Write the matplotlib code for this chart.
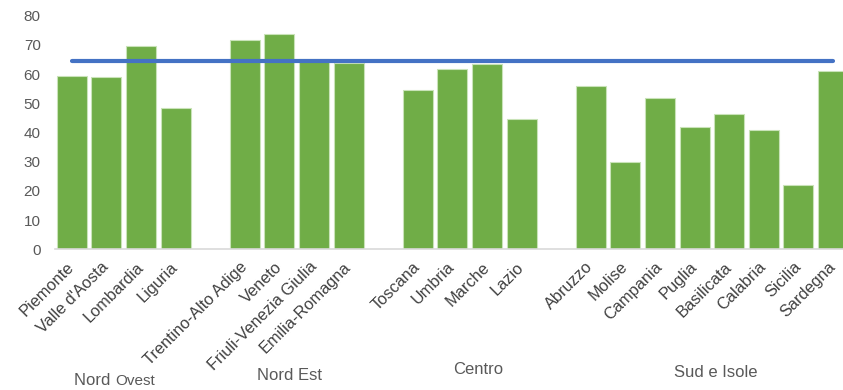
import numpy as np
import matplotlib

matplotlib.use("Agg")
import matplotlib.pyplot as plt

plt.rcParams["font.family"] = ["Liberation Sans", "DejaVu Sans"]

# regions per macro-area (empty slot between areas in the original chart)
groups = ["Nord Ovest", "Nord Est", "Centro", "Sud e Isole"]
nord_ovest = ["Piemonte", "Valle d'Aosta", "Lombardia", "Liguria"]
nord_est = ["Trentino-Alto Adige", "Veneto", "Friuli-Venezia Giulia", "Emilia-Romagna"]
centro = ["Toscana", "Umbria", "Marche", "Lazio"]
sud_isole = ["Abruzzo", "Molise", "Campania", "Puglia",
             "Basilicata", "Calabria", "Sicilia", "Sardegna"]

v_nord_ovest = [59.4, 59.1, 69.7, 48.5]
v_nord_est = [71.8, 73.8, 65.0, 63.7]
v_centro = [54.5, 61.8, 63.5, 44.6]
v_sud_isole = [55.8, 30.0, 51.9, 41.8, 46.2, 40.9, 21.9, 61.2]

italia = 64.6  # reference line

GREEN = "#70AD47"
BLUE = "#4472C4"
GREY = "#595959"

# build the category axis with one blank slot between areas
labels, values, spans = [], [], []
for names, vals in [(nord_ovest, v_nord_ovest), (nord_est, v_nord_est),
                    (centro, v_centro), (sud_isole, v_sud_isole)]:
    if labels:
        labels.append("")
        values.append(np.nan)
    start = len(labels)
    labels += names
    values += vals
    spans.append((start, len(labels) - 1))
x = np.arange(len(labels))

fig = plt.figure(figsize=(8.43, 3.90), dpi=100)
ax = fig.add_axes([0.0647, 0.3608, 0.944, 0.599])

ax.bar(x, values, width=0.87, color=GREEN, edgecolor="#C9E3B8", linewidth=0.8, zorder=2)
ax.plot(x, [italia] * len(x), color=BLUE, lw=3.0, solid_capstyle="round", zorder=3)

ax.set_xlim(-0.5, len(x) - 0.5)
ax.set_ylim(0, 80)
ax.set_yticks(range(0, 81, 10))
ax.tick_params(axis="y", length=0, pad=10, labelsize=11, labelcolor=GREY)
ax.set_xticks(x)
ax.set_xticklabels(labels, rotation=45, ha="right", va="center",
                   rotation_mode="anchor", fontsize=11.8, color="#404040")
ax.tick_params(axis="x", length=0, pad=11)

for s in ("top", "right", "left"):
    ax.spines[s].set_visible(False)
ax.spines["bottom"].set_color("#D9D9D9")
ax.spines["bottom"].set_linewidth(1.2)

# area labels below the region names (slight nudges as in the original)
group_y = [-0.563, -0.54, -0.514, -0.527]
group_dx = [-0.25, -0.2, 0.23, 0.1]
for name, (a, b), gy, dx in zip(groups, spans, group_y, group_dx):
    xc = (a + b) / 2 + dx
    tr = ax.get_xaxis_transform()
    if name == "Nord Ovest":
        ax.text(xc, gy, "Nord ", transform=tr,
                ha="right", va="center", fontsize=12, color=GREY)
        ax.text(xc, gy, "Ovest", transform=tr,
                ha="left", va="center", fontsize=11, color=GREY)
    else:
        ax.text(xc, gy, name, transform=tr,
                ha="center", va="center", fontsize=12, color=GREY)

fig.savefig("out.png", dpi=100)
